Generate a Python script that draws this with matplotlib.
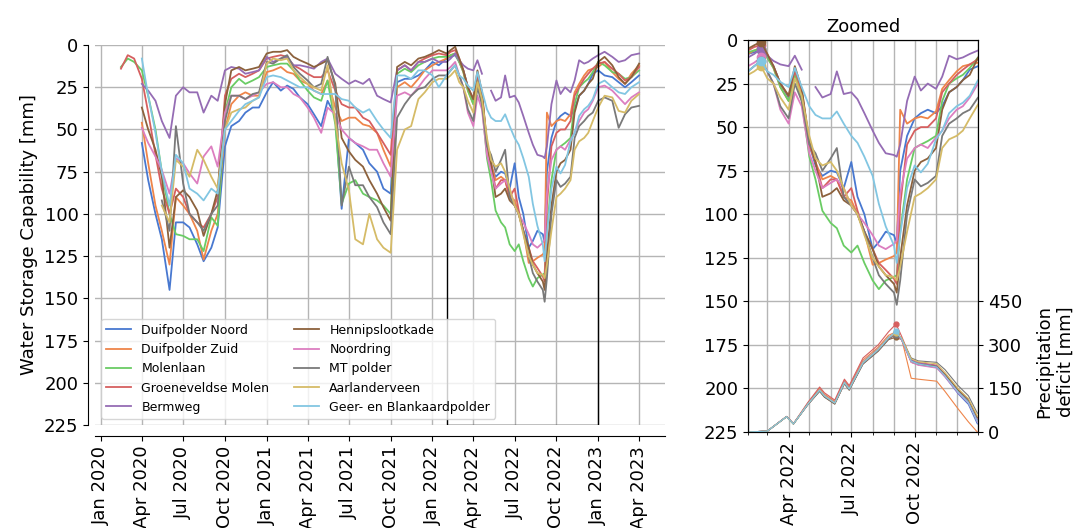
import numpy as np
import pandas as pd
import matplotlib
matplotlib.use('Agg')
import matplotlib.pyplot as plt
import matplotlib.dates as mdates
from matplotlib.patches import Rectangle

nan = np.nan

# dates: semi-monthly 2020-2021, ~10 days in 2022, semi-monthly 2023
dates_2020_21 = pd.date_range('2020-02-15', '2021-12-15', freq='SMS')
dates_2022 = pd.to_datetime([
    '2022-01-01', '2022-01-15', '2022-02-01', '2022-02-10', '2022-02-20',
    '2022-03-01', '2022-03-10', '2022-03-20', '2022-04-01', '2022-04-10',
    '2022-04-20', '2022-05-01', '2022-05-10', '2022-05-20', '2022-06-01',
    '2022-06-10', '2022-06-20', '2022-07-01', '2022-07-10', '2022-07-20',
    '2022-08-01', '2022-08-10', '2022-08-20', '2022-09-01', '2022-09-05',
    '2022-09-10', '2022-09-20', '2022-10-01', '2022-10-10', '2022-10-20',
    '2022-11-01', '2022-11-10', '2022-11-20', '2022-12-01', '2022-12-10',
    '2022-12-20'])
dates_2023 = pd.date_range('2023-01-01', '2023-04-01', freq='SMS')
dates = dates_2020_21.append(dates_2022).append(dates_2023)

# water storage capability [mm]
duifpolder_noord = [nan, nan, nan, 58, 80, 100, 115, 145, 105, 105, 108, 118, 128, 120, 108, 60, 48, 45, 40, 37, 37,
                    28, 22, 27, 24, 26, 31, 35, 41, 48, 33, 42, 97, 55, 58, 62, 70, 75, 85, 88, 22, 20, 20, 18, 15,
                    10, 12, 8, 7, 6, 10, 15, 25, 33, 20, 30, 60, 72, 78, 75, 76, 85, 70, 90, 100, 120, 116, 110, 112,
                    117, 75, 55, 45, 42, 40, 42, 38, 30, 27, 23, 17,
                    15, 18, 19, 22, 25, 22, 18]
duifpolder_zuid = [nan, nan, nan, 46, 70, 95, 110, 130, 90, 95, 100, 110, 127, 110, 100, 50, 35, 30, 28, 30, 30,
                   16, 15, 13, 16, 17, 21, 23, 27, 29, 21, 37, 45, 43, 43, 47, 48, 52, 62, 72, 25, 22, 25, 20, 15,
                   12, 10, 8, 6, 5, 10, 16, 27, 35, 20, 30, 60, 70, 80, 78, 80, 90, 92, 100, 110, 129, 128, 126, 124,
                   122, 40, 48, 45, 44, 45, 41, 28, 23, 18, 15, 14,
                   13, 10, 16, 20, 23, 17, 12]
molenlaan = [13, 8, 10, 15, 30, 50, 75, 100, 112, 113, 115, 115, 122, 102, 107, 40, 25, 20, 23, 21, 19,
             13, 12, 11, 11, 15, 21, 27, 31, 33, 21, 47, 94, 82, 80, 88, 90, 92, 95, 100, 17, 14, 16, 12, 10,
             8, 7, 7, 6, 5, 10, 16, 27, 35, 20, 35, 67, 80, 98, 105, 108, 118, 122, 118, 128, 138, 143, 138, 136,
             135, 110, 80, 62, 60, 58, 55, 35, 25, 22, 20, 16,
             10, 12, 16, 17, 20, 19, 15]
groeneveldse_molen = [14, 6, 8, 20, 40, 65, 85, 100, 85, 90, 100, 105, 108, 100, 90, 30, 20, 17, 19, 17, 15,
                      8, 7, 6, 7, 12, 14, 17, 19, 19, 15, 27, 35, 37, 37, 43, 45, 52, 58, 65, 15, 12, 15, 10, 8,
                      6, 5, 6, 4, 3, 8, 15, 25, 32, 18, 28, 60, 70, 85, 80, 80, 90, 85, 98, 110, 120, 128, 132, 137,
                      140, 95, 60, 52, 50, 50, 45, 30, 25, 20, 17, 14,
                      11, 10, 14, 17, 21, 19, 13]
bermweg = [nan, nan, nan, 23, 27, 33, 45, 55, 30, 25, 28, 28, 40, 30, 33, 15, 13, 14, 17, 16, 15,
           7, 10, 8, 7, 12, 12, 13, 14, 10, 8, 17, 20, 23, 21, 23, 20, 30, 32, 34, 15, 12, 15, 10, 10,
           8, 10, 10, 8, 5, 9, 12, 14, 15, 9, 17, nan, 27, 33, 31, 18, 31, 30, 34, 42, 52, 59, 65, 66,
           67, 60, 35, 21, 29, 25, 28, 21, 9, 11, 10, 8,
           6, 4, 7, 10, 9, 6, 5]
hennipslootkade = [nan, nan, nan, 37, 50, 62, 78, 120, 90, 86, 90, 98, 113, 100, 86, 35, 15, 13, 15, 14, 13,
                   5, 4, 4, 3, 7, 9, 11, 13, 11, 9, 23, 55, 63, 68, 72, 80, 88, 96, 104, 13, 10, 12, 8, 7,
                   5, 3, 5, 3, 1, 8, 15, 25, 32, 15, 28, 58, 70, 90, 88, 85, 92, 95, 100, 110, 120, 130, 135, 140,
                   145, 125, 95, 75, 70, 68, 62, 40, 30, 27, 23, 20,
                   10, 7, 12, 19, 23, 19, 11]
noordring = [nan, nan, nan, 49, 58, 66, 74, 88, 67, 70, 76, 82, 66, 60, 72, 40, 30, 30, 32, 30, 28,
             23, 22, 25, 25, 29, 31, 37, 43, 52, 37, 41, 50, 55, 58, 60, 62, 62, 70, 78, 30, 28, 30, 25, 20,
             15, 15, 15, 13, 10, 18, 25, 40, 48, 30, 38, 65, 75, 85, 82, 80, 85, 95, 100, 105, 112, 118, 120, 117,
             115, 88, 68, 62, 60, 62, 56, 52, 45, 40, 38, 33,
             25, 24, 27, 31, 35, 31, 28]
mt_polder = [nan, nan, nan, nan, nan, nan, 92, 110, 48, 82, 100, 105, 110, 100, 95, 45, 30, 30, 32, 29, 28,
             10, 11, 8, 6, 13, 17, 21, 25, 23, 7, 25, 95, 72, 83, 83, 90, 96, 105, 112, 43, 35, 30, 26, 25,
             20, 18, 18, 15, 12, 18, 25, 38, 45, 25, 35, 60, 65, 75, 68, 62, 90, 95, 100, 110, 125, 135, 140, 145,
             152, 138, 100, 80, 84, 82, 78, 55, 48, 45, 42, 40,
             33, 31, 33, 49, 41, 37, 36]
aarlanderveen = [nan, nan, nan, nan, nan, nan, 95, 105, 68, 72, 78, 62, 68, 78, 85, 50, 40, 38, 37, 33, 31,
                 11, 8, 9, 8, 15, 19, 23, 25, 27, 12, 45, 70, 86, 115, 118, 100, 115, 120, 123, 62, 50, 48, 32, 28,
                 22, 20, 20, 18, 15, 22, 25, 33, 40, 22, 32, 55, 68, 72, 70, 75, 85, 95, 100, 112, 125, 130, 135, 136,
                 138, 130, 110, 90, 88, 85, 80, 62, 57, 55, 52, 45,
                 37, 30, 31, 39, 40, 33, 29]
geer_blankaard = [nan, nan, nan, 8, 30, 52, 75, 95, 65, 70, 85, 88, 92, 85, 88, 50, 45, 39, 35, 33, 31,
                  19, 18, 19, 21, 23, 25, 25, 27, 29, 29, 29, 32, 33, 37, 40, 38, 45, 50, 55, 18, 18, 20, 15, 15,
                  18, 25, 18, 15, 12, 18, 20, 24, 27, 16, 27, 38, 43, 45, 45, 41, 48, 55, 59, 67, 78, 94, 107, 118,
                  128, 112, 85, 72, 76, 71, 57, 52, 42, 38, 36, 32,
                  23, 21, 25, 28, 29, 25, 22]

# precipitation deficit [mm] in 2022
deficit_dates = pd.to_datetime([
    '2022-02-01', '2022-03-01', '2022-03-29', '2022-04-08', '2022-04-29', '2022-05-16',
    '2022-05-23', '2022-06-07', '2022-06-21', '2022-06-28', '2022-07-18', '2022-08-09',
    '2022-08-24', '2022-09-04', '2022-09-12', '2022-09-26', '2022-10-06', '2022-11-02',
    '2022-11-14', '2022-12-03', '2022-12-18', '2022-12-31'])
def_duifpolder_noord = [0, 3, 53, 28, 95, 142, 122, 98, 168, 146, 236, 280, 320, 338, 318, 243, 232, 222, 190, 132, 95, 28]
def_duifpolder_zuid = [0, 3, 53, 28, 100, 150, 130, 105, 178, 155, 248, 292, 333, 345, 322, 185, 182, 175, 140, 80, 35, 0]
def_molenlaan = [0, 3, 52, 27, 96, 144, 124, 100, 170, 148, 238, 283, 324, 340, 320, 246, 236, 226, 196, 142, 106, 38]
def_groeneveldse_molen = [0, 3, 54, 29, 102, 155, 135, 110, 182, 160, 255, 300, 345, 372, 330, 250, 240, 230, 200, 145, 110, 45]
def_bermweg = [0, 3, 53, 28, 98, 146, 126, 101, 173, 151, 242, 287, 327, 342, 322, 248, 238, 228, 198, 144, 108, 42]
def_hennipslootkade = [0, 3, 53, 28, 94, 140, 120, 96, 166, 144, 234, 278, 318, 327, 318, 240, 232, 226, 198, 145, 112, 50]
def_noordring = [0, 3, 53, 28, 96, 143, 123, 99, 169, 147, 237, 282, 322, 337, 317, 240, 230, 220, 190, 135, 100, 35]
def_mt_polder = [0, 3, 53, 28, 95, 141, 121, 97, 167, 145, 235, 280, 320, 335, 322, 255, 245, 240, 215, 160, 125, 65]
def_aarlanderveen = [0, 3, 53, 28, 97, 145, 125, 100, 171, 149, 240, 285, 326, 341, 324, 252, 242, 235, 205, 150, 115, 55]
def_geer_blankaard = [0, 3, 53, 28, 96, 144, 124, 100, 170, 148, 238, 283, 324, 347, 320, 244, 234, 224, 194, 138, 102, 38]

names = ['Duifpolder Noord', 'Duifpolder Zuid', 'Molenlaan', 'Groeneveldse Molen', 'Bermweg',
         'Hennipslootkade', 'Noordring', 'MT polder', 'Aarlanderveen', 'Geer- en Blankaardpolder']
storage = [duifpolder_noord, duifpolder_zuid, molenlaan, groeneveldse_molen, bermweg,
           hennipslootkade, noordring, mt_polder, aarlanderveen, geer_blankaard]
deficit = [def_duifpolder_noord, def_duifpolder_zuid, def_molenlaan, def_groeneveldse_molen, def_bermweg,
           def_hennipslootkade, def_noordring, def_mt_polder, def_aarlanderveen, def_geer_blankaard]
colors = ['#4878D0', '#EE854A', '#6ACC64', '#D65F5F', '#956CB4',
          '#8C613C', '#DC7EC0', '#797979', '#D5BB67', '#82C6E2']

zoom_start = pd.Timestamp('2022-02-01')
zoom_end = pd.Timestamp('2023-01-01')

plt.rcParams['font.family'] = ['DejaVu Sans']
plt.rcParams['font.size'] = 13

fig = plt.figure(figsize=(10.85, 5.28), dpi=100)
ax = fig.add_axes([0.0876, 0.195, 0.5253, 0.7197])
ax2 = fig.add_axes([0.6894, 0.1818, 0.212, 0.7424])

grid_kw = dict(color='#b5b5b5', linewidth=1)

# full period
for name, color, vals in zip(names, colors, storage):
    ax.plot(dates, vals, color=color, lw=1.3, label=name)

ax.set_ylim(225, 0)
ax.set_yticks(range(0, 226, 25))
ax.xaxis.set_major_locator(mdates.MonthLocator(bymonth=[1, 4, 7, 10]))
ax.xaxis.set_major_formatter(mdates.DateFormatter('%b %Y'))
ax.tick_params(axis='x', labelrotation=90)
ax.grid(True, **grid_kw)
ax.set_axisbelow(True)
ax.spines[['top', 'right']].set_visible(False)
ax.spines['left'].set_position(('outward', 5))
ax.spines['bottom'].set_position(('outward', 8))
ax.set_ylabel('Water Storage Capability [mm]')
x0 = mdates.date2num(zoom_start)
x1 = mdates.date2num(zoom_end)
ax.add_patch(Rectangle((x0, 0), x1 - x0, 225, fill=False, edgecolor='black', lw=1, zorder=3))
ax.legend(loc='lower left', ncol=2, fontsize=9)

# zoomed period
in_zoom = (dates >= zoom_start) & (dates <= zoom_end)
for color, vals in zip(colors, storage):
    v = np.array(vals, dtype=float)
    ax2.plot(dates, v, color=color, lw=1.3)
    zi = np.where(in_zoom)[0]
    i = zi[np.nanargmin(v[zi])]
    ax2.plot(dates[i], v[i], 'o', color=color, ms=6)

ax2.set_xlim(zoom_start, zoom_end)
ax2.set_ylim(225, 0)
ax2.set_yticks(range(0, 226, 25))
ax2.xaxis.set_major_locator(mdates.MonthLocator(bymonth=[4, 7, 10]))
ax2.xaxis.set_minor_locator(mdates.MonthLocator())
ax2.xaxis.set_major_formatter(mdates.DateFormatter('%b %Y'))
ax2.tick_params(axis='x', labelrotation=90)
ax2.grid(True, which='major', **grid_kw)
ax2.grid(True, which='minor', axis='x', **grid_kw)
ax2.set_axisbelow(True)
ax2.set_title('Zoomed', fontsize=13)

ax2t = ax2.twinx()
for color, vals in zip(colors, deficit):
    v = np.array(vals, dtype=float)
    ax2t.plot(deficit_dates, v, color=color, lw=0.8)
    i = np.argmax(v)
    ax2t.plot(deficit_dates[i], v[i], 'o', color=color, ms=3.5)
ax2t.set_ylim(0, 1350)
ax2t.set_yticks([0, 150, 300, 450])
ax2t.set_ylabel('Precipitation\ndeficit [mm]')
ax2t.yaxis.set_label_coords(1.25, 0.18)
ax2t.set_xlim(zoom_start, zoom_end)

fig.savefig('out.png', dpi=100)
